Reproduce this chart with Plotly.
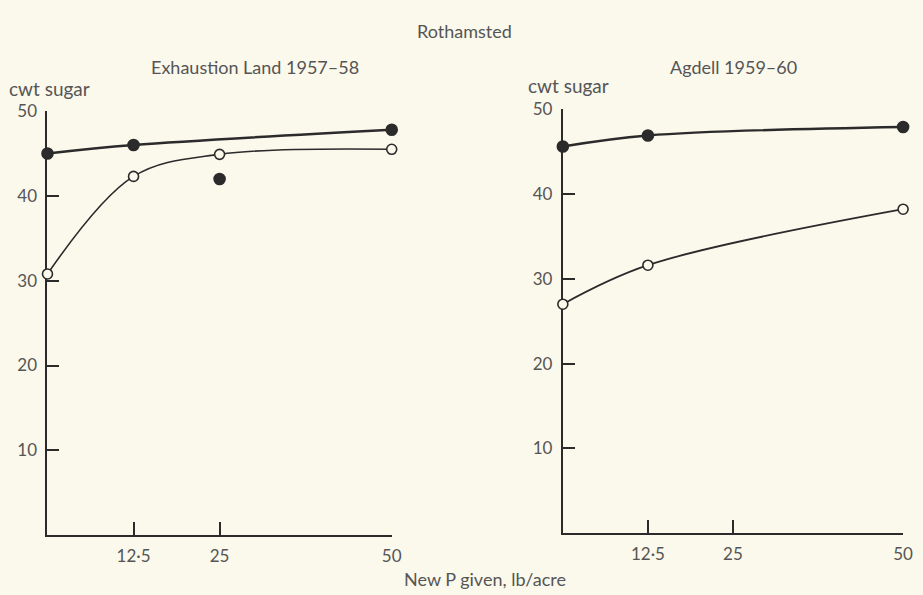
import plotly.graph_objects as go

# ---- data ----
p_levels = [0, 12.5, 25, 50]
x_tick_vals = [12.5, 25, 50]
x_tick_text = ["12·5", "25", "50"]
y_tick_vals = [10, 20, 30, 40, 50]

# Exhaustion Land 1957-58
ex_filled = [45.0, 46.0, 42.0, 47.8]      # filled circles
ex_filled_curve_x = [0, 12.5, 50]          # curve ignores the 25 point
ex_filled_curve_y = [45.0, 46.0, 47.8]
ex_open = [30.8, 42.3, 44.9, 45.5]         # open circles

# Agdell 1959-60
ag_x = [0, 12.5, 50]
ag_filled = [45.6, 46.9, 47.9]
ag_open = [27.0, 31.6, 38.2]

BG = "#FBF8EC"
INK = "#2b2b2b"
TXT = "#555555"
FONT = "Lato"
FS = 18

fig = go.Figure()

def add_series(x, y, xa, ya, filled, mode="lines+markers", lw=2.0):
    marker = dict(size=11 if filled else 10, color=INK if filled else BG,
                  line=dict(color=INK, width=1.6))
    fig.add_trace(go.Scatter(x=x, y=y, mode=mode, xaxis=xa, yaxis=ya,
                             line=dict(color=INK, width=lw, shape="spline", smoothing=1.0),
                             marker=marker, cliponaxis=False, showlegend=False,
                             hoverinfo="x+y"))

# left panel
add_series(ex_filled_curve_x, ex_filled_curve_y, "x", "y", True, mode="lines", lw=2.4)
add_series(p_levels, ex_filled, "x", "y", True, mode="markers")
add_series(p_levels, ex_open, "x", "y", False, mode="lines+markers", lw=1.6)

# right panel
add_series(ag_x, ag_filled, "x2", "y2", True, mode="lines+markers", lw=2.4)
add_series(ag_x, ag_open, "x2", "y2", False, mode="lines+markers", lw=1.8)

W, H = 923, 595

def xd(a, b):
    return [a / W, b / W]

def yd(top, bottom):
    return [1 - bottom / H, 1 - top / H]

axis_common = dict(showgrid=False, zeroline=False, showline=True, linecolor=INK,
                   linewidth=2, ticks="inside", tickcolor=INK, tickwidth=2,
                   layer="below traces",
                   tickfont=dict(family=FONT, size=FS - 1, color=TXT))

fig.update_layout(
    width=W, height=H,
    paper_bgcolor=BG, plot_bgcolor=BG,
    margin=dict(l=0, r=0, t=0, b=0),
    xaxis=dict(domain=xd(48, 396), range=[0, 50], anchor="y",
               tickvals=x_tick_vals, ticktext=x_tick_text, ticklen=13,
               ticklabelstandoff=4, **axis_common),
    yaxis=dict(domain=yd(102, 534), range=[0, 50], anchor="x",
               tickvals=y_tick_vals, ticklen=12, ticklabelstandoff=5,
               **axis_common),
    xaxis2=dict(domain=xd(569, 913), range=[0, 50], anchor="y2",
                tickvals=x_tick_vals, ticktext=x_tick_text, ticklen=13,
                ticklabelstandoff=4, **axis_common),
    yaxis2=dict(domain=yd(100, 532), range=[0, 50], anchor="x2",
                tickvals=y_tick_vals, ticklen=12, ticklabelstandoff=5,
                **axis_common),
)

def ann(text, x, y, xanchor="center", size=FS):
    fig.add_annotation(text=text, x=x / W, y=1 - y / H, xref="paper", yref="paper",
                       xanchor=xanchor, yanchor="middle", showarrow=False,
                       font=dict(family=FONT, size=size, color=TXT))

ann("Rothamsted", 470, 20)
ann("Exhaustion Land 1957–58", 258, 57)
ann("Agdell 1959–60", 742, 57)
ann("cwt sugar", 7, 79, xanchor="left", size=19)
ann("cwt sugar", 532, 76, xanchor="left", size=19)
ann("New P given, lb/acre", 490, 579)

fig.write_html(
    "out.html",
    config={"displayModeBar": False},
    post_script="document.body.style.margin='0';document.body.style.background='" + BG + "';",
)
